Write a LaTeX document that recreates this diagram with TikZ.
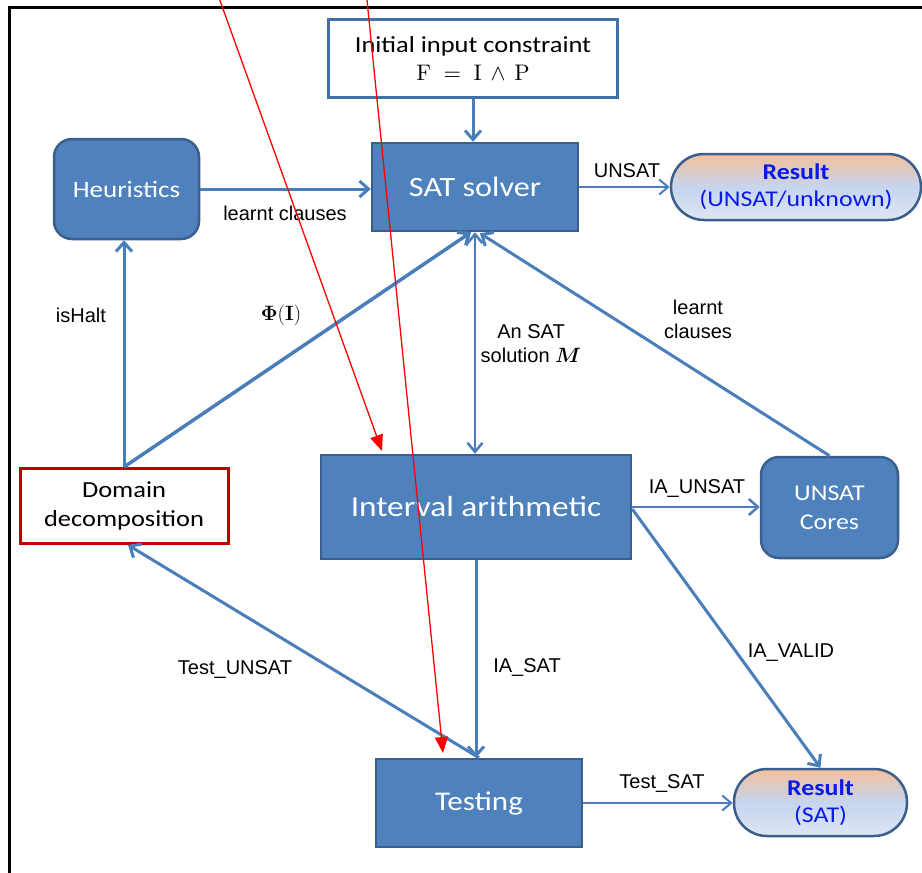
\documentclass[tikz,border=0pt]{standalone}
\usepackage[no-math]{fontspec}
\setmainfont{Liberation Sans}
\newfontfamily\boxfont[FakeStretch=1.15]{Carlito}
\usetikzlibrary{arrows.meta,calc}
\definecolor{boxblue}{HTML}{4F81BD}
\definecolor{boxedge}{HTML}{3A5F8C}
\definecolor{lineblue}{HTML}{4A7EBB}
\definecolor{initedge}{HTML}{4270A6}
\definecolor{ddred}{HTML}{C00000}
\definecolor{resblue}{HTML}{0A1AE6}
\definecolor{peach}{HTML}{F4C09C}
\definecolor{lightblue}{HTML}{C6D5EE}
\definecolor{paleblue}{HTML}{DDE6F4}
\begin{document}
\begin{tikzpicture}[x=1pt,y=-1pt,
  bluebox/.style={draw=boxedge, line width=2.5pt, fill=boxblue, text=white, font=\boxfont, align=center, inner sep=0pt},
  resbox/.style={draw=boxedge, line width=2.5pt, top color=peach, bottom color=paleblue, middle color=lightblue, text=resblue, font=\boxfont\fontsize{22.5}{27}\selectfont, align=center, inner sep=0pt},
  conn/.style={draw=lineblue, line width=3pt, -{Straight Barb[length=9pt,width=16pt]}},
  thinconn/.style={draw=lineblue, line width=2pt, -{Straight Barb[length=9pt,width=15pt]}},
  lbl/.style={font=\fontsize{20}{24}\selectfont, text=black, inner sep=0pt, align=center},
  redarr/.style={draw=red, line width=1.3pt, -{Triangle[length=16pt,width=13pt]}}
]
\useasboundingbox (0,0) rectangle (922,873);
% frame
\coordinate (fbl) at (9.5,900);
\coordinate (ftl) at (9.5,7.5);
\coordinate (ftr) at (950,7.5);
\draw[line width=3pt] (fbl) -- (ftl) -- (ftr);

% nodes
\node[draw=initedge, line width=3pt, fill=white, minimum width=289pt, minimum height=78pt, align=center, inner sep=0pt] (init) at (473,58.5)
  {{\boxfont\fontsize{23}{28}\selectfont Initial input constraint}\\[8pt] \scalebox{2.25}{$\mathrm{F}\;=\;\mathrm{I}\,\wedge\,\mathrm{P}$}};
\node[bluebox, minimum width=206pt, minimum height=88pt, font=\boxfont\fontsize{28}{32}\selectfont] (sat) at (475,187) {SAT solver};
\node[bluebox, rounded corners=18pt, minimum width=145pt, minimum height=100pt, font=\boxfont\fontsize{23.5}{27}\selectfont] (heur) at (126.5,189) {Heuristics};
\node[resbox, rounded corners=33pt, minimum width=250pt, minimum height=66pt] (resU) at (796,187) {\textbf{Result}\\(UNSAT/unknown)};
\node[bluebox, minimum width=310pt, minimum height=104pt, font=\boxfont\fontsize{29}{33}\selectfont] (ia) at (476,507) {Interval arithmetic};
\node[bluebox, rounded corners=18pt, minimum width=137pt, minimum height=101pt, font=\boxfont\fontsize{22.5}{29}\selectfont] (cores) at (829.5,507.5) {UNSAT\\Cores};
\node[draw=ddred, line width=3pt, fill=white, minimum width=208pt, minimum height=75pt, align=center, inner sep=0pt, font=\boxfont\fontsize{23}{29}\selectfont] (dd) at (124,506) {Domain\\decomposition};
\node[bluebox, minimum width=206pt, minimum height=88pt, font=\boxfont\fontsize{27}{31}\selectfont] (test) at (479,803) {Testing};
\node[resbox, rounded corners=33pt, minimum width=173pt, minimum height=67pt] (resS) at (820.5,802.5) {\textbf{Result}\\(SAT)};

% connectors
\draw[conn] (init.south) -- (init.south |- sat.north);
\draw[conn] (heur.east) -- (heur.east -| sat.west);
\draw[thinconn] (sat.east) -- (sat.east -| resU.west);
\draw[conn] (dd.north) -- (dd.north |- heur.south);
\draw[conn, line width=3.5pt] (dd.north) -- ($(sat.south)+(-4,0)$);
\draw[thinconn, line width=2.5pt, {Straight Barb[length=9pt,width=15pt]}-{Straight Barb[length=9pt,width=15pt]}] (sat.south) -- (sat.south |- ia.north);
\draw[conn] (cores.north) -- ($(sat.south)+(5,1)$);
\draw[conn, line width=2.5pt] (ia.east) -- (ia.east -| cores.west);
\draw[conn] ($(ia.east)+(0,2)$) -- (resS.north);
\draw[conn] (ia.south) -- (ia.south |- test.north);
\draw[conn] (test.north) -- ($(dd.south)+(4,0)$);
\draw[thinconn] (test.east) -- (test.east -| resS.west);

% labels
\node[lbl] (l1) at (285,213) {learnt clauses};
\node[lbl] (l2) at (627,171) {UNSAT};
\node[lbl] (l3) at (81,315) {isHalt};
\node[lbl] (l4) at (281,315) {$\mathbf{\Phi(I)}$};
\node[lbl] (l5) at (531,344) {An SAT\\solution {\boldmath$M$}};
\node[lbl] (l6) at (698,319) {learnt\\clauses};
\node[lbl] (l7) at (697,488) {IA\_UNSAT};
\node[lbl] (l8) at (791,653) {IA\_VALID};
\node[lbl] (l9) at (527,667) {IA\_SAT};
\node[lbl] (l10) at (235,669) {Test\_UNSAT};
\node[lbl] (l11) at (662,783) {Test\_SAT};

% red annotation arrows
\coordinate (r1s) at (218,-5);
\coordinate (r1e) at (382,451);
\coordinate (r2s) at (366.5,-5);
\coordinate (r2e) at (443,753);
\draw[redarr] (r1s) -- (r1e);
\draw[redarr] (r2s) -- (r2e);
\end{tikzpicture}
\end{document}
